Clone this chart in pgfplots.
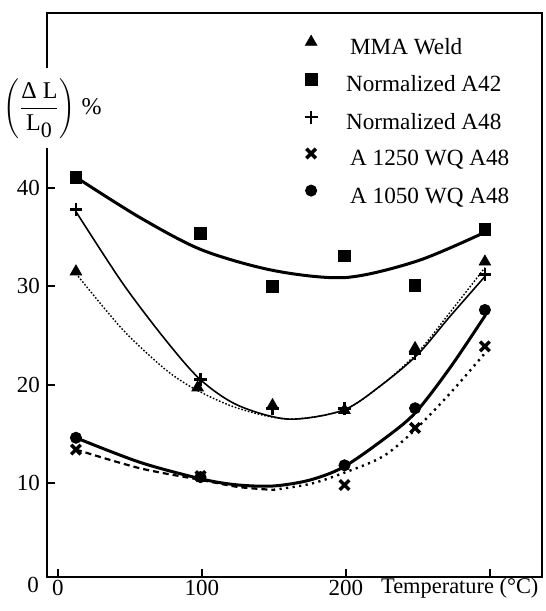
\documentclass[border=0pt]{standalone}
\usepackage{fontspec}
\setmainfont{Liberation Serif}
\usepackage{pgfplots}
\pgfplotsset{compat=1.18}
\usetikzlibrary{calc}

\begin{document}
\begin{tikzpicture}
\begin{axis}[
  name=main,
  scale only axis, width=247.25pt, height=282pt,
  xmin=-7.6, xmax=335.8, ymin=0.44, ymax=57.8,
  xtick={0,100,200,300}, xticklabels={0,100,200,{}},
  ytick={10,20,30,40}, yticklabels={10,20,30,40},
  xtick pos=bottom, ytick pos=left,
  tick align=inside, major tick length=4pt,
  tick style={line width=0.9pt, black},
  axis line style={line width=1pt},
  ticklabel style={font=\fontsize{11.5}{13}\selectfont},
  xticklabel style={yshift=2pt},
  clip=false,
  legend style={draw=none, fill=none, at={(0.505,0.961)}, anchor=north west,
    inner sep=0pt, row sep=7pt, font=\fontsize{11.6}{13}\selectfont,
    nodes={inner sep=0pt, text height=8pt, text depth=2.5pt}},
  legend cell align=left,
  legend image code/.code={\path[draw=none, fill=none] (0pt,0pt) -- (24.5pt,0pt);
    \draw[#1, mark repeat=2, mark phase=2]
    plot coordinates {(0pt,3.5pt) (7pt,3.5pt) (24.5pt,3.5pt)};},
]
% measured points
\addplot[only marks, mark=triangle*, mark size=3.3pt, black]
  coordinates {(12.5,31.5) (97,19.7) (149,17.9) (199,17.4) (248,23.7) (296.5,32.5)};
\addlegendentry{\hspace{2pt}MMA Weld}
\addplot[only marks, mark=square*, mark size=2.9pt, black]
  coordinates {(12.5,41.1) (99,35.4) (149,30.0) (199,33.1) (248,30.1) (296.5,35.8)};
\addlegendentry{Normalized A42}
\addplot[only marks, mark=+, mark size=3.2pt, black, mark options={line width=1.3pt}]
  coordinates {(12.5,37.8) (99,20.5) (149,17.6) (199,17.6) (248,23.2) (296.5,31.2)};
\addlegendentry{Normalized A48}
\addplot[only marks, mark=x, mark size=3.4pt, black, mark options={line width=1.7pt}]
  coordinates {(12.5,13.4) (99,10.7) (199,9.8) (248,15.6) (296.5,23.9)};
\addlegendentry{\hspace{2pt}A 1250 WQ A48}
\addplot[only marks, mark=*, mark size=2.8pt, black]
  coordinates {(12.5,14.6) (99,10.6) (199,11.8) (248,17.6) (296.5,27.6)};
\addlegendentry{\hspace{2pt}A 1050 WQ A48}

% fitted curves
\addplot[forget plot, smooth, tension=0.5, black, line width=1.5pt] coordinates {
  (12.5,41.1) (56.9,37.0) (100,33.7) (150,31.6) (200,30.9) (250,32.6) (296.5,35.5)};
\addplot[forget plot, smooth, tension=0.5, black, line width=0.8pt] coordinates {
  (12.5,37.6) (45,30.3) (75,24.5) (99,20.5) (125,17.9) (160,16.5) (198,17.4)
  (225,20.0) (250,23.1) (272,26.9) (296.5,31.0)};
\addplot[forget plot, smooth, tension=0.5, black, line width=0.7pt, dash pattern=on 0.8pt off 0.9pt] coordinates {
  (12.5,31.3) (45,25.6) (75,21.5) (97,19.4) (125,17.6) (160,16.5) (198,17.4)
  (225,20.0) (250,23.3) (272,27.3) (296.5,31.9)};
\addplot[forget plot, smooth, tension=0.5, black, line width=1.5pt] coordinates {
  (12.5,14.6) (57,12.1) (100,10.4) (125,9.8) (150,9.7) (175,10.3) (198,11.6)
  (225.7,14.4) (247.9,17.1) (272.2,21.7) (297,27.1)};
\addplot[forget plot, smooth, tension=0.5, black, line width=1.1pt, dash pattern=on 3pt off 2pt] coordinates {
  (12.5,13.4) (56.9,11.5) (99.8,10.3) (125,9.6) (149.3,9.3)};
\addplot[forget plot, smooth, tension=0.5, black, line width=1.2pt, dash pattern=on 1.1pt off 2.2pt] coordinates {
  (149.3,9.3) (175,9.9) (198,11.0) (225.7,12.7) (247.9,15.4) (272.2,19.1) (296.5,23.2)};

% axis titles
\node[fill=white, inner xsep=1pt, inner ysep=5pt, font=\fontsize{12}{14}\selectfont]
  at (rel axis cs:0.011,0.831)
  {$\displaystyle\left(\frac{\mbox{Δ L}}{\mbox{L}_{\mbox{\fontsize{11}{12}\selectfont 0}}}\right)$\ \%};
\node[font=\fontsize{11.5}{13}\selectfont] at (rel axis cs:-0.028,-0.014) {0};
\node[anchor=base east, font=\fontsize{11.2}{13}\selectfont]
  at ($(rel axis cs:1,0)+(2pt,-8pt)$) {Temperature (°C)};
\end{axis}
\path (main.south west) ++(-23.5pt,-17pt) coordinate (bbl);
\path (main.north east) ++(1.75pt,6.5pt) coordinate (bbr);
\path (bbl) rectangle (bbr);
\end{tikzpicture}
\end{document}
